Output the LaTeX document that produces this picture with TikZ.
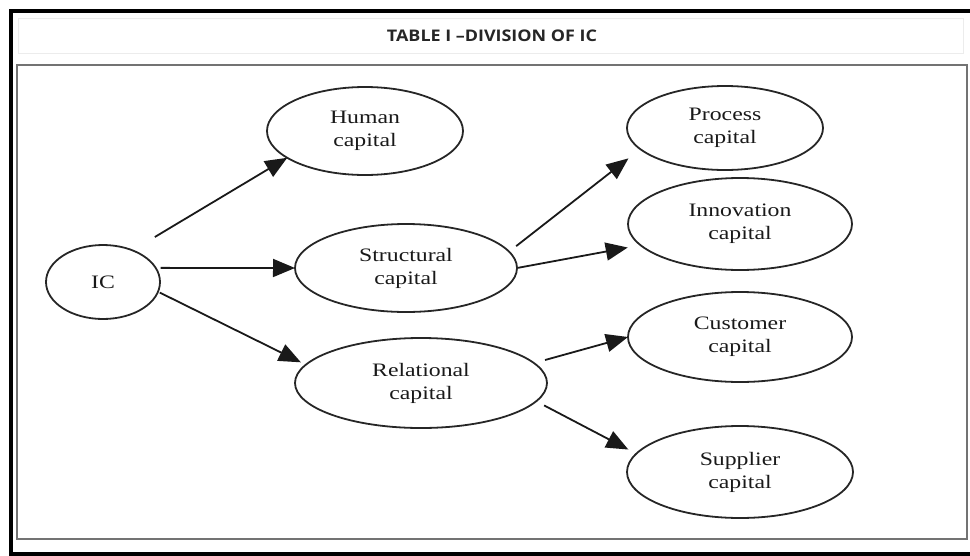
\documentclass[tikz,border=0pt]{standalone}
\usepackage{fontspec}
\usetikzlibrary{shapes.geometric,arrows.meta}
\newfontfamily\nodefont[FakeStretch=1.25]{Liberation Serif}
\newfontfamily\titlefont[FakeStretch=1.12]{Open Sans}
\begin{document}
\begin{tikzpicture}[x=1pt,y=-1pt,
  oval/.style={ellipse,draw=black!85,line width=1.8pt,inner sep=0pt,outer sep=0pt,align=center,
    font=\nodefont\fontsize{19}{23}\selectfont,text=black!90},
  link/.style={line width=1.8pt,draw=black!90,-{Triangle[length=22pt,width=18pt]}}]
\useasboundingbox (0,0) rectangle (970,555);
% frames
\draw[line width=4pt] (10.5,11) rectangle (975,553.5);
\draw[gray!15,line width=1pt] (18,18) rectangle (963,53);
\draw[black!55,line width=2pt] (17,65) rectangle (967,539);
% title
\node[font=\titlefont\bfseries\fontsize{16}{19}\selectfont,text=black!85] (title) at (492,36) {TABLE I –DIVISION OF IC};
% nodes
\node[oval,minimum width=114pt,minimum height=74pt] (ic) at (103,282) {IC};
\node[oval,minimum width=196pt,minimum height=88pt] (hum) at (365,131) {Human\\capital};
\node[oval,minimum width=222pt,minimum height=88pt] (str) at (406,268) {Structural\\capital};
\node[oval,minimum width=252pt,minimum height=90pt] (rel) at (421,383) {Relational\\capital};
\node[oval,minimum width=196pt,minimum height=84pt] (proc) at (725,128) {Process\\capital};
\node[oval,minimum width=224pt,minimum height=92pt] (inn) at (740,224) {Innovation\\capital};
\node[oval,minimum width=224pt,minimum height=90pt] (cust) at (740,337) {Customer\\capital};
\node[oval,minimum width=226pt,minimum height=92pt] (sup) at (740,472) {Supplier\\capital};
% connectors
\draw[link,shorten <=26pt] (ic.47) -- (hum.199);
\draw[link,shorten <=5pt] (ic.15) -- (str.180);
\draw[link,shorten <=2pt,shorten >=5.5pt] (ic.-10) -- (rel.171);
\draw[link,shorten <=9pt,shorten >=15pt] (str.9) -- (proc.194);
\draw[link,shorten <=1pt,shorten >=13pt] (str.0) -- (inn.192);
\draw[link,shorten <=11.5pt] (rel.10) -- (cust.180);
\draw[link,shorten <=9pt,shorten >=9pt] (rel.-9) -- (sup.170);
\end{tikzpicture}
\end{document}
